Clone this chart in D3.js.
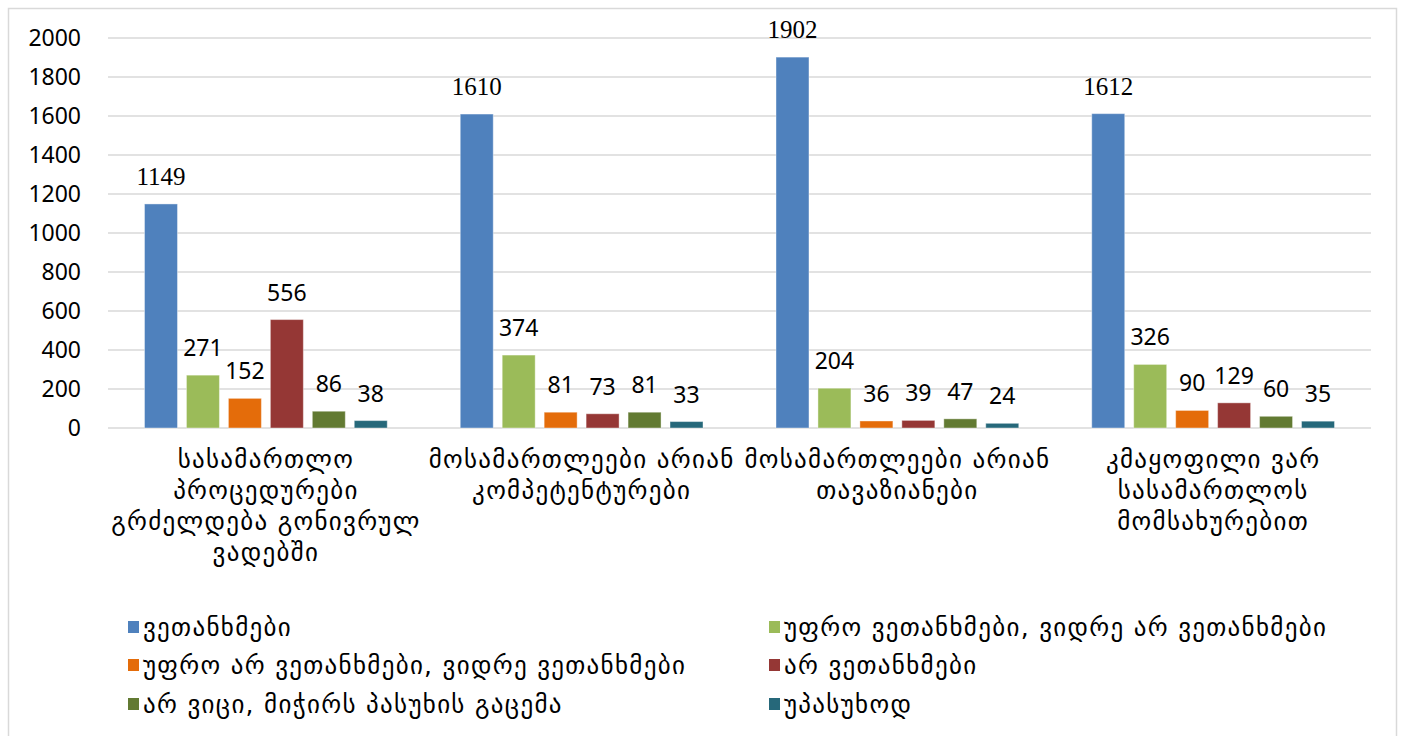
<!DOCTYPE html>
<html>
<head>
<meta charset="utf-8">
<script src="https://cdn.jsdelivr.net/npm/d3@7"></script>
<style>
  body { margin: 0; background: #fff; }
  text { font-family: "Noto Sans", "DejaVu Sans", sans-serif; fill: #000; }
  .geo { font-family: "DejaVu Sans", sans-serif; letter-spacing: 1.3px; }
</style>
</head>
<body>
<div id="chart"></div>
<script>
// chart data
var categories = [
    ["სასამართლო", "პროცედურები", "გრძელდება გონივრულ", "ვადებში"],
    ["მოსამართლეები არიან", "კომპეტენტურები"],
    ["მოსამართლეები არიან", "თავაზიანები"],
    ["კმაყოფილი ვარ", "სასამართლოს", "მომსახურებით"]
];
var seriesNames = [
    "ვეთანხმები",
    "უფრო ვეთანხმები, ვიდრე არ ვეთანხმები",
    "უფრო არ ვეთანხმები, ვიდრე ვეთანხმები",
    "არ ვეთანხმები",
    "არ ვიცი, მიჭირს პასუხის გაცემა",
    "უპასუხოდ"
];
var agree = [1149, 1610, 1902, 1612];
var ratherAgree = [271, 374, 204, 326];
var ratherDisagree = [152, 81, 36, 90];
var disagree = [556, 73, 39, 129];
var dontKnow = [86, 81, 47, 60];
var noAnswer = [38, 33, 24, 35];
var yTicks = [0, 200, 400, 600, 800, 1000, 1200, 1400, 1600, 1800, 2000];

var colors = ["#4F81BD", "#9BBB59", "#E46C0A", "#953735", "#627A32", "#26687A"];
var allSeries = [agree, ratherAgree, ratherDisagree, disagree, dontKnow, noAnswer];

var svgWidth = 1402, svgHeight = 736;
var margin = { top: 38, left: 108, right: 31, bottom: 308 };
var width = svgWidth - margin.left - margin.right;
var height = svgHeight - margin.top - margin.bottom;

var svg = d3.select("#chart").append("svg")
    .attr("width", svgWidth)
    .attr("height", svgHeight);

// outer frame
svg.append("rect")
    .attr("x", 8.5).attr("y", 8.5)
    .attr("width", 1388).attr("height", 745)
    .attr("fill", "none")
    .attr("stroke", "#d9d9d9")
    .attr("stroke-width", 1.5);

var chartGroup = svg.append("g")
    .attr("transform", `translate(${margin.left}, ${margin.top})`);

var catIdx = d3.range(categories.length);

var x0 = d3.scaleBand()
    .domain(catIdx)
    .range([0, width]);

var x1 = d3.scaleBand()
    .domain(d3.range(allSeries.length))
    .range([0, x0.bandwidth()])
    .paddingInner(0.214)
    .paddingOuter(0.87);

var y = d3.scaleLinear()
    .domain([0, 2000])
    .range([height, 0]);

// gridlines
chartGroup.selectAll(".grid")
    .data(yTicks)
    .enter()
    .append("line")
    .attr("x1", 0)
    .attr("x2", width)
    .attr("y1", d => y(d))
    .attr("y2", d => y(d))
    .attr("stroke", "#d9d9d9")
    .attr("stroke-width", 1.5);

// y axis labels
var leftAxis = d3.axisLeft(y).tickValues(yTicks).tickFormat(d3.format("d")).tickSize(0).tickPadding(27);
var yAxis = chartGroup.append("g").call(leftAxis);
yAxis.select(".domain").remove();
yAxis.selectAll("text")
    .style("font-family", "'Noto Sans', sans-serif")
    .style("font-size", "23px")
    .attr("fill", "#000");

// bars
var barData = [];
allSeries.forEach(function (vals, s) {
    vals.forEach(function (v, c) {
        barData.push({ s: s, c: c, v: v });
    });
});

chartGroup.selectAll("rect.bar")
    .data(barData)
    .enter()
    .append("rect")
    .attr("class", "bar")
    .attr("x", d => x0(d.c) + x1(d.s))
    .attr("y", d => y(d.v))
    .attr("width", x1.bandwidth())
    .attr("height", d => height - y(d.v))
    .attr("fill", d => colors[d.s])
    .attr("stroke", "#ffffff")
    .attr("stroke-opacity", 0.4)
    .attr("stroke-width", 1);

// value labels
chartGroup.selectAll("text.val")
    .data(barData)
    .enter()
    .append("text")
    .attr("class", "val")
    .attr("x", d => x0(d.c) + x1(d.s) + x1.bandwidth() / 2)
    .attr("y", d => y(d.v) - 19)
    .attr("text-anchor", "middle")
    .style("font-family", d => d.s === 0 ? "'Liberation Serif', serif" : "'Noto Sans', sans-serif")
    .style("font-size", d => d.s === 0 ? "25px" : "23px")
    .text(d => d.v);

// category labels
var catGroup = chartGroup.selectAll("g.cat")
    .data(categories)
    .enter()
    .append("g")
    .attr("transform", (d, i) => `translate(${x0(i) + x0.bandwidth() / 2}, ${height + 40})`);

catGroup.selectAll("text")
    .data(d => d)
    .enter()
    .append("text")
    .attr("class", "geo")
    .attr("x", 0)
    .attr("y", (d, i) => i * 31)
    .attr("text-anchor", "middle")
    .attr("font-size", "25px")
    .text(d => d);

// legend
var legendCols = [128, 769];
var legendRows = [629, 667, 706];
var legend = svg.selectAll("g.legend")
    .data(seriesNames)
    .enter()
    .append("g")
    .attr("transform", (d, i) => `translate(${legendCols[i % 2]}, ${legendRows[Math.floor(i / 2)]})`);

legend.append("rect")
    .attr("x", 0)
    .attr("y", -8)
    .attr("width", 11)
    .attr("height", 12)
    .attr("fill", (d, i) => colors[i]);

legend.append("text")
    .attr("class", "geo")
    .attr("x", 15)
    .attr("y", 7)
    .attr("font-size", "25px")
    .text(d => d);
</script>
</body>
</html>
